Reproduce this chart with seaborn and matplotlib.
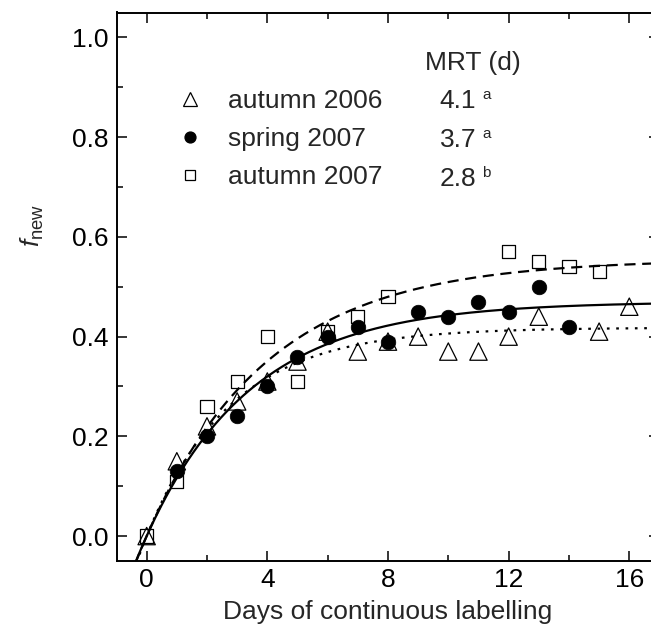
import numpy as np
import pandas as pd
import matplotlib
matplotlib.use("Agg")
import matplotlib.pyplot as plt
from matplotlib.lines import Line2D
from matplotlib.ticker import MultipleLocator, FormatStrFormatter
import seaborn as sns

# ---------------- data ----------------
days_a06 = [0, 1, 2, 3, 4, 5, 6, 7, 8, 9, 10, 11, 12, 13, 15, 16]
fnew_a06 = [0.00, 0.15, 0.22, 0.27, 0.31, 0.35, 0.41, 0.37, 0.39, 0.40, 0.37, 0.37, 0.40, 0.44, 0.41, 0.46]

days_s07 = [1, 2, 3, 4, 5, 6, 7, 8, 9, 10, 11, 12, 13, 14]
fnew_s07 = [0.13, 0.20, 0.24, 0.30, 0.36, 0.40, 0.42, 0.39, 0.45, 0.44, 0.47, 0.45, 0.50, 0.42]

days_a07 = [0, 1, 2, 3, 4, 5, 6, 7, 8, 12, 13, 14, 15]
fnew_a07 = [0.00, 0.11, 0.26, 0.31, 0.40, 0.31, 0.41, 0.44, 0.48, 0.57, 0.55, 0.54, 0.53]

series_labels = ["autumn 2006", "spring 2007", "autumn 2007"]
mrt_values = ["4.1", "3.7", "2.8"]
mrt_letters = ["a", "a", "b"]

# fitted exponential rise curves f = A * (1 - exp(-t / tau))
fit_asymptote = [0.418, 0.47, 0.555]
fit_tau = [2.8, 3.5, 4.0]

x_ticks = [0, 4, 8, 12, 16]
y_ticks = [0.0, 0.2, 0.4, 0.6, 0.8, 1.0]

# ---------------- style ----------------
sns.set_style("ticks")
plt.rcParams["font.family"] = ["Liberation Sans", "DejaVu Sans"]
plt.rcParams["mathtext.fontset"] = "custom"
plt.rcParams["mathtext.rm"] = "Liberation Sans"
plt.rcParams["mathtext.it"] = "Liberation Sans:italic"
FS = 19

fig = plt.figure(figsize=(6.51, 6.28), dpi=100)
ax = fig.add_axes([116.5 / 651, 67 / 628, 542.5 / 651, 548.5 / 628])

# ---------------- curves ----------------
t = np.linspace(-1.0, 17.2, 500)
styles = [(0, (1.2, 3.0)), "-", (0, (5.0, 3.0))]
for A, tau, ls in zip(fit_asymptote, fit_tau, styles):
    sns.lineplot(x=t, y=A * (1 - np.exp(-t / tau)), ax=ax, color="k",
                 linewidth=1.6, linestyle=ls, sort=False, estimator=None, zorder=2)

# ---------------- points ----------------
df06 = pd.DataFrame({"days": days_a06, "fnew": fnew_a06})
df07a = pd.DataFrame({"days": days_a07, "fnew": fnew_a07})
df07s = pd.DataFrame({"days": days_s07, "fnew": fnew_s07})

sns.scatterplot(data=df06, x="days", y="fnew", marker="^", s=12.5 ** 2,
                facecolor="none", edgecolor="k", linewidth=0.9, ax=ax, zorder=3)
sns.scatterplot(data=df07a, x="days", y="fnew", marker="s", s=9.5 ** 2,
                facecolor="none", edgecolor="k", linewidth=0.9, ax=ax, zorder=3)
sns.scatterplot(data=df07s, x="days", y="fnew", marker="o", s=10.5 ** 2,
                facecolor="k", edgecolor="k", linewidth=0.5, ax=ax, zorder=4)

# ---------------- axes ----------------
ax.set_xlim(-1, 16.985)
ax.set_ylim(-0.05, 1.05)
ax.set_xticks(x_ticks)
ax.set_yticks(y_ticks)
ax.xaxis.set_minor_locator(MultipleLocator(2))
ax.yaxis.set_minor_locator(MultipleLocator(0.1))
ax.yaxis.set_major_formatter(FormatStrFormatter("%.1f"))
ax.tick_params(which="both", direction="in", top=True, right=True, width=1.1,
               labelsize=FS, colors="k")
ax.tick_params(which="major", length=7, pad=6)
ax.tick_params(which="minor", length=4)
ax.tick_params(axis="x", which="major", pad=5)
for sp in ax.spines.values():
    sp.set_linewidth(1.4)
    sp.set_color("k")

ax.set_xlabel("Days of continuous labelling", fontsize=FS, labelpad=6)
ax.set_ylabel(r"$\mathit{f}_{\mathregular{new}}$", fontsize=FS)
ax.yaxis.set_label_coords(-0.130, 0.612)

# ---------------- legend ----------------
handles = [
    Line2D([], [], marker="^", ls="none", ms=10.5, mfc="none", mec="k", mew=0.9),
    Line2D([], [], marker="o", ls="none", ms=7.8, mfc="k", mec="k"),
    Line2D([], [], marker="s", ls="none", ms=7.5, mfc="none", mec="k", mew=0.9),
]
ax.legend(handles, series_labels, loc="upper left", bbox_to_anchor=(0.111, 0.860),
          frameon=False, fontsize=FS, handlelength=1.0, handletextpad=0.95,
          labelspacing=0.53, borderpad=0, borderaxespad=0, numpoints=1)

ax.text(9.24, 0.935, "MRT (d)", fontsize=FS, ha="left", va="baseline")
row_base = [0.858, 0.781, 0.703]
for yb, val, let in zip(row_base, mrt_values, mrt_letters):
    ax.text(9.71, yb, val, fontsize=FS, ha="left", va="baseline")
    ax.text(11.12, yb + 0.018, let, fontsize=11, ha="left", va="baseline")

fig.savefig("out.png", dpi=100)
